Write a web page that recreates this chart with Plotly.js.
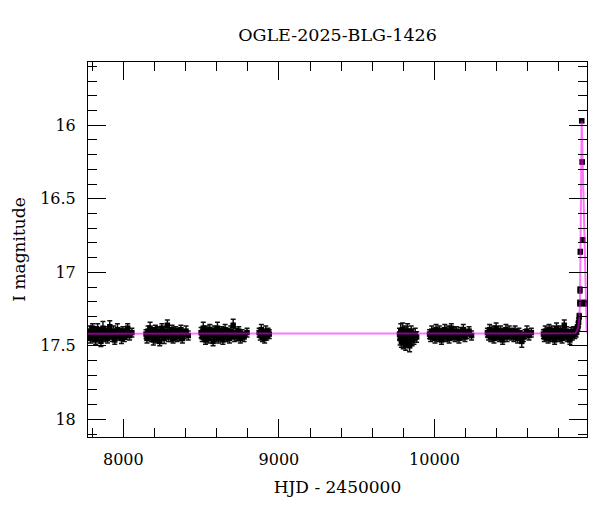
<!DOCTYPE html>
<html>
<head>
<meta charset="utf-8">
<script src="https://cdn.plot.ly/plotly-3.0.1.min.js"></script>
<style>html,body{margin:0;padding:0;background:#fff;}#chart{width:600px;height:512px;}</style>
</head>
<body>
<div id="chart"></div>
<script>
// ---- Observations (HJD - 2450000, I mag, error), per season ----
const t1 = [7777,7783,7789,7796,7802,7809,7815,7822,7829,7835,7842,7849,7856,7862,7869,7876,7884,7891,7898,7906,7913,7921,7929,7937,7945,7953,7962,7970,7979,7988,7997,8007,8017,8028,8040,8055];
const m1 = [17.43,17.40,17.45,17.41,17.38,17.44,17.42,17.46,17.40,17.39,17.43,17.41,17.47,17.42,17.38,17.44,17.40,17.43,17.45,17.41,17.37,17.42,17.44,17.40,17.46,17.42,17.39,17.43,17.41,17.45,17.40,17.44,17.42,17.38,17.43,17.41];
const e1 = [0.03,0.035,0.03,0.04,0.03,0.03,0.035,0.03,0.03,0.04,0.03,0.03,0.035,0.03,0.045,0.03,0.03,0.035,0.03,0.03,0.04,0.03,0.03,0.035,0.03,0.03,0.04,0.03,0.03,0.035,0.03,0.03,0.035,0.03,0.03,0.03];

const t2 = [8146,8152,8159,8166,8172,8179,8186,8193,8199,8206,8213,8220,8227,8234,8241,8248,8255,8262,8269,8276,8283,8290,8298,8305,8313,8320,8328,8336,8344,8352,8361,8370,8380,8391,8403,8417];
const m2 = [17.42,17.45,17.40,17.43,17.38,17.44,17.41,17.46,17.42,17.39,17.44,17.40,17.43,17.47,17.41,17.38,17.43,17.45,17.40,17.42,17.36,17.44,17.41,17.43,17.39,17.45,17.42,17.40,17.44,17.41,17.43,17.39,17.45,17.42,17.40,17.43];
const e2 = [0.03,0.03,0.035,0.03,0.04,0.03,0.03,0.035,0.03,0.03,0.04,0.03,0.03,0.03,0.035,0.03,0.03,0.035,0.03,0.03,0.035,0.03,0.03,0.04,0.03,0.03,0.035,0.03,0.03,0.03,0.035,0.03,0.03,0.03,0.035,0.03];

const t3 = [8500,8507,8514,8521,8528,8535,8542,8549,8556,8563,8570,8577,8584,8591,8598,8605,8612,8619,8626,8633,8640,8647,8654,8661,8668,8675,8682,8690,8698,8706,8714,8723,8732,8742,8752,8763,8776,8795];
const m3 = [17.41,17.44,17.38,17.43,17.46,17.40,17.42,17.45,17.39,17.43,17.41,17.47,17.40,17.44,17.42,17.38,17.45,17.41,17.43,17.40,17.46,17.42,17.39,17.44,17.41,17.43,17.45,17.40,17.42,17.36,17.44,17.41,17.43,17.40,17.45,17.42,17.44,17.41];
const e3 = [0.035,0.03,0.04,0.03,0.03,0.035,0.03,0.03,0.035,0.03,0.03,0.03,0.035,0.03,0.03,0.04,0.03,0.03,0.035,0.03,0.03,0.03,0.035,0.03,0.03,0.03,0.03,0.035,0.03,0.04,0.03,0.03,0.035,0.03,0.03,0.03,0.03,0.03];

const t4 = [8873,8880,8887,8894,8901,8908,8915,8922,8930,8938];
const m4 = [17.41,17.43,17.39,17.44,17.42,17.45,17.40,17.43,17.41,17.42];
const e4 = [0.03,0.03,0.035,0.03,0.03,0.03,0.035,0.03,0.03,0.03];

const t5 = [9775,9779,9783,9787,9791,9795,9799,9803,9807,9811,9815,9819,9823,9827,9831,9835,9840,9845,9850,9856,9862,9868,9876,9885];
const m5 = [17.42,17.45,17.40,17.47,17.43,17.39,17.48,17.44,17.41,17.46,17.49,17.42,17.45,17.40,17.47,17.43,17.50,17.44,17.41,17.46,17.43,17.45,17.42,17.44];
const e5 = [0.04,0.045,0.05,0.04,0.05,0.045,0.04,0.05,0.045,0.05,0.04,0.05,0.045,0.05,0.04,0.045,0.04,0.05,0.045,0.04,0.045,0.04,0.04,0.035];

const t6 = [9968,9975,9982,9989,9996,10003,10010,10017,10024,10031,10038,10045,10052,10059,10066,10073,10080,10087,10094,10101,10108,10116,10124,10132,10140,10148,10157,10166,10175,10185,10196,10208,10222,10238];
const m6 = [17.42,17.44,17.40,17.43,17.41,17.45,17.39,17.42,17.44,17.40,17.43,17.46,17.41,17.43,17.39,17.44,17.42,17.40,17.45,17.42,17.38,17.43,17.41,17.44,17.40,17.42,17.45,17.41,17.43,17.39,17.44,17.42,17.40,17.43];
const e6 = [0.03,0.03,0.035,0.03,0.03,0.03,0.035,0.03,0.03,0.035,0.03,0.03,0.03,0.03,0.035,0.03,0.03,0.035,0.03,0.03,0.03,0.03,0.035,0.03,0.03,0.03,0.03,0.035,0.03,0.035,0.03,0.03,0.03,0.03];

const t7 = [10340,10347,10354,10361,10368,10375,10382,10389,10396,10403,10410,10417,10424,10431,10438,10445,10452,10459,10466,10473,10480,10487,10494,10502,10510,10518,10526,10534,10543,10552,10561,10571,10582,10594,10607,10622];
const m7 = [17.41,17.43,17.39,17.44,17.42,17.40,17.45,17.42,17.38,17.43,17.41,17.44,17.40,17.43,17.46,17.41,17.42,17.39,17.44,17.42,17.40,17.42,17.43,17.41,17.44,17.40,17.42,17.45,17.41,17.43,17.47,17.44,17.42,17.40,17.43,17.41];
const e7 = [0.03,0.03,0.035,0.03,0.03,0.035,0.03,0.03,0.035,0.03,0.03,0.03,0.035,0.03,0.03,0.03,0.03,0.035,0.03,0.03,0.035,0.03,0.03,0.03,0.03,0.035,0.03,0.03,0.03,0.03,0.04,0.03,0.03,0.035,0.03,0.03];

const t8 = [10700,10706,10712,10718,10724,10730,10736,10742,10748,10754,10760,10766,10772,10778,10784,10790,10796,10802,10808,10814,10820,10827,10834,10841,10848,10855,10862,10870,10878,10886,10894,10902,10910,10916,10922,10926];
const m8 = [17.42,17.44,17.40,17.43,17.41,17.45,17.39,17.42,17.44,17.40,17.43,17.41,17.46,17.42,17.38,17.43,17.41,17.44,17.40,17.42,17.45,17.41,17.36,17.43,17.40,17.44,17.42,17.46,17.41,17.43,17.40,17.42,17.41,17.39,17.37,17.34];
const e8 = [0.03,0.03,0.035,0.03,0.03,0.03,0.035,0.03,0.03,0.035,0.03,0.03,0.03,0.03,0.035,0.03,0.03,0.03,0.035,0.03,0.03,0.03,0.035,0.03,0.03,0.03,0.03,0.03,0.035,0.03,0.03,0.03,0.03,0.03,0.03,0.03];

// event points
const tp = [10930,10934,10935,10937,10946,10949,10952,10966];
const mp = [17.30,17.21,17.12,16.86,15.97,16.25,16.78,17.21];
const ep = [0.02,0.02,0.02,0.015,0.01,0.012,0.015,0.02];

// ---- Model curve ----
const modelT = [7773,10890,10905,10915,10922,10927,10931,10935,10946,10978,10985,11000];
const modelM = [17.418,17.418,17.415,17.40,17.38,17.35,17.30,17.19,15.97,17.39,17.418,17.418];

// ---- Labels ----
const titleText = 'OGLE-2025-BLG-1426';
const xTitle = 'HJD - 2450000';
const yTitle = 'I magnitude';

const hjd = [].concat(t1,t2,t3,t4,t5,t6,t7,t8,tp);
const imag = [].concat(m1,m2,m3,m4,m5,m6,m7,m8,mp);
const ierr = [].concat(e1,e2,e3,e4,e5,e6,e7,e8,ep);

const font = 'DejaVu Serif, serif';

const data = [
  {
    x: hjd, y: imag, type: 'scatter', mode: 'markers',
    marker: {symbol: 'square', size: 5.5, color: '#000'},
    error_y: {type: 'data', array: ierr, visible: true, color: '#111', thickness: 1.5, width: 2.5},
    hoverinfo: 'skip', showlegend: false
  },
  {
    x: modelT, y: modelM, type: 'scatter', mode: 'lines',
    line: {color: '#ff00ff', width: 2},
    opacity: 0.55, hoverinfo: 'skip', showlegend: false
  }
];

const axisCommon = {
  showline: true, linecolor: '#000', linewidth: 1, mirror: 'ticks',
  ticks: 'inside', ticklen: 18, tickwidth: 1, tickcolor: '#000',
  showgrid: false, zeroline: false, automargin: false,
  tickfont: {family: font, size: 16, color: '#000'}
};

const layout = {
  width: 600, height: 512,
  margin: {l: 88, r: 13, t: 62, b: 75},
  paper_bgcolor: '#fff', plot_bgcolor: '#fff',
  title: {text: titleText, font: {family: font, size: 17.5, color: '#000'},
          x: 0.5, xref: 'paper', y: 1 - 35/512, yref: 'container', yanchor: 'middle'},
  xaxis: Object.assign({}, axisCommon, {
    range: [7773, 10980], tick0: 0, dtick: 1000, tickformat: 'd',
    minor: {dtick: 200, ticks: 'inside', ticklen: 9, tickwidth: 1, tickcolor: '#000'},
    ticklabelstandoff: 8,
    title: {text: xTitle, font: {family: font, size: 17, color: '#000'}, standoff: 12}
  }),
  yaxis: Object.assign({}, axisCommon, {
    range: [18.12, 15.57], tick0: 0, dtick: 0.5,
    minor: {dtick: 0.1, ticks: 'inside', ticklen: 9, tickwidth: 1, tickcolor: '#000'},
    ticklabelstandoff: 8,
    title: {text: yTitle, font: {family: font, size: 17, color: '#000'}, standoff: 10}
  })
};

Plotly.newPlot('chart', data, layout, {displayModeBar: false, staticPlot: true});
</script>
</body>
</html>
